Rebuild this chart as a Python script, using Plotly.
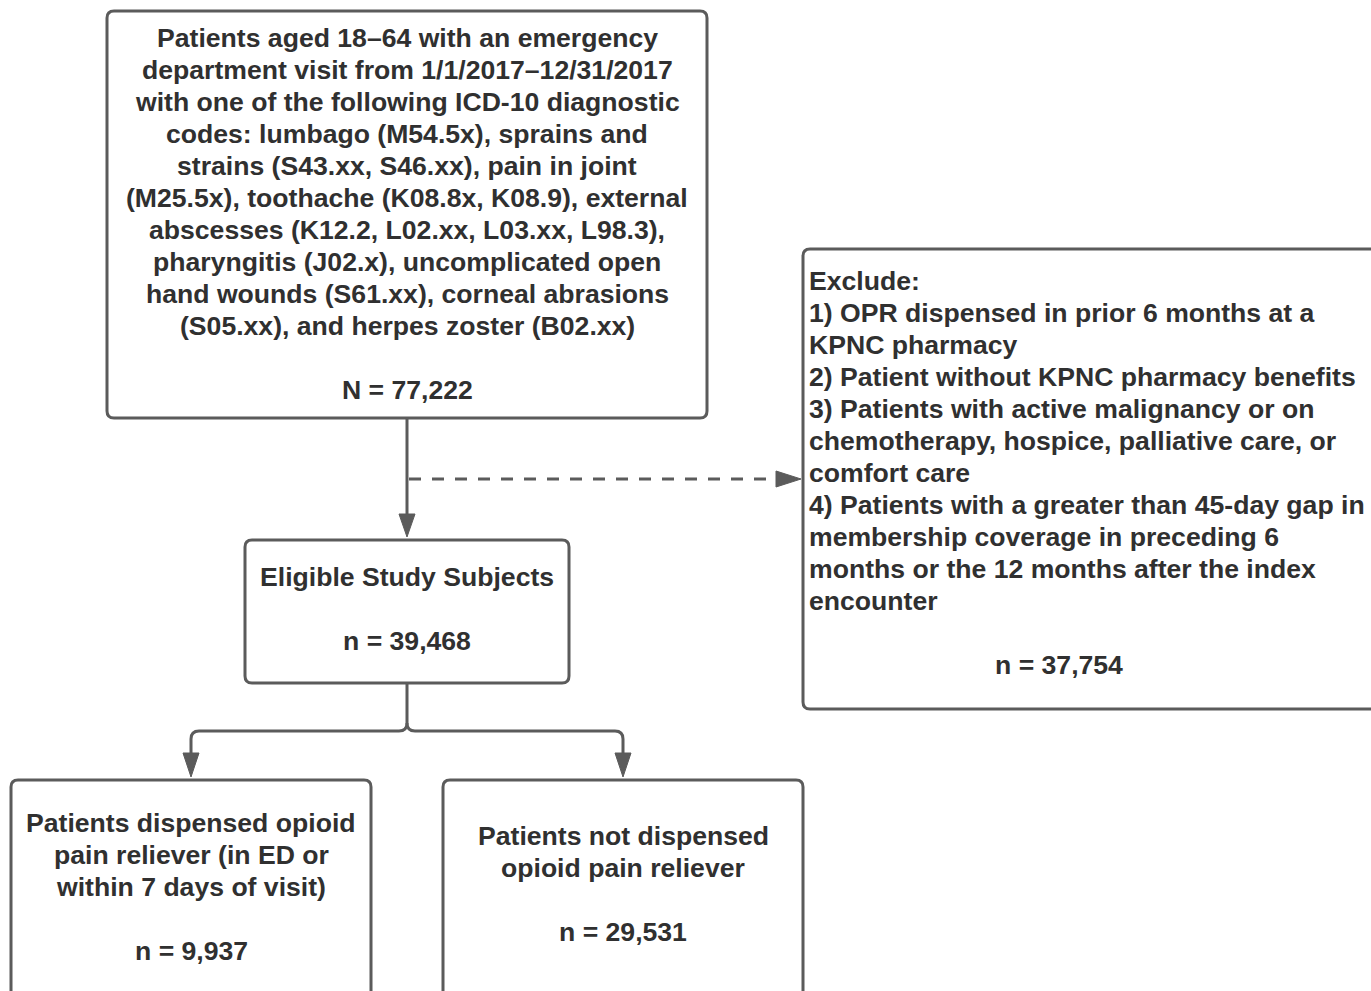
import plotly.graph_objects as go

# ---- content ----
top_lines = [
    "Patients aged 18–64 with an emergency",
    "department visit from 1/1/2017–12/31/2017",
    "with one of the following ICD-10 diagnostic",
    "codes: lumbago (M54.5x), sprains and",
    "strains (S43.xx, S46.xx), pain in joint",
    "(M25.5x), toothache (K08.8x, K08.9), external",
    "abscesses (K12.2, L02.xx, L03.xx, L98.3),",
    "pharyngitis (J02.x), uncomplicated open",
    "hand wounds (S61.xx), corneal abrasions",
    "(S05.xx), and herpes zoster (B02.xx)",
]
top_count = ["N = 77,222"]
elig_lines = ["Eligible Study Subjects"]
elig_count = ["n = 39,468"]
excl_lines = [
    "Exclude:",
    "1) OPR dispensed in prior 6 months at a",
    "KPNC pharmacy",
    "2) Patient without KPNC pharmacy benefits",
    "3) Patients with active malignancy or on",
    "chemotherapy, hospice, palliative care, or",
    "comfort care",
    "4) Patients with a greater than 45-day gap in",
    "membership coverage in preceding 6",
    "months or the 12 months after the index",
    "encounter",
]
excl_count = ["n = 37,754"]
left_lines = ["Patients dispensed opioid", "pain reliever (in ED or", "within 7 days of visit)"]
left_count = ["n = 9,937"]
right_lines = ["Patients not dispensed", "opioid pain reliever"]
right_count = ["n = 29,531"]

W, H = 1371, 991
LINE = "#5b5b5b"
TXT = "#303030"
FS = 26.6
LH = 32
FONT = dict(family="Liberation Sans, Arial, sans-serif", size=FS, color=TXT, weight="bold")

fig = go.Figure()
shapes = []
annotations = []


def rrect(x0, y0, x1, y1, r=7):
    p = (f"M{x0+r},{y0} L{x1-r},{y0} Q{x1},{y0} {x1},{y0+r} "
         f"L{x1},{y1-r} Q{x1},{y1} {x1-r},{y1} L{x0+r},{y1} "
         f"Q{x0},{y1} {x0},{y1-r} L{x0},{y0+r} Q{x0},{y0} {x0+r},{y0} Z")
    shapes.append(dict(type="path", path=p, line=dict(color=LINE, width=3),
                       fillcolor="white", layer="below"))


def lines_at(lines, x, y0, anchor="center"):
    for i, t in enumerate(lines):
        annotations.append(dict(x=x, y=y0 + i * LH, text=t, showarrow=False,
                                xanchor=anchor, yanchor="middle", font=FONT))


def tri(path):
    shapes.append(dict(type="path", path=path, fillcolor=LINE,
                       line=dict(color=LINE, width=1)))


def seg(path, dash="solid"):
    shapes.append(dict(type="path", path=path, line=dict(color=LINE, width=3, dash=dash)))


# boxes
rrect(107, 11, 707, 418)
rrect(245, 540, 569, 683)
rrect(803, 249, 1385, 709)
rrect(11, 780, 371, 1010)
rrect(443, 780, 803, 1010)

# connectors
seg("M407,418 L407,516")
tri("M399,514 L415,514 L407,537 Z")
seg("M409,479 L778,479", dash="12px,11px")
tri("M776,471 L776,487 L801,479 Z")
seg("M407,683 L407,723 Q407,731 399,731 L199,731 Q191,731 191,739 L191,756")
seg("M407,723 Q407,731 415,731 L615,731 Q623,731 623,739 L623,756")
tri("M183,753 L199,753 L191,777 Z")
tri("M615,753 L631,753 L623,777 Z")

# texts
lines_at(top_lines, 407, 38)
lines_at(top_count, 407, 390)
lines_at(elig_lines, 407, 577)
lines_at(elig_count, 407, 641)
lines_at(excl_lines, 807, 281, anchor="left")
lines_at(excl_count, 1059, 665)
lines_at(left_lines, 191, 823)
lines_at(left_count, 191, 951)
lines_at(right_lines, 623, 836)
lines_at(right_count, 623, 932)

fig.update_layout(
    width=W, height=H,
    margin=dict(l=0, r=0, t=0, b=0),
    paper_bgcolor="white", plot_bgcolor="white",
    xaxis=dict(range=[0, W], visible=False, fixedrange=True),
    yaxis=dict(range=[H, 0], visible=False, fixedrange=True),
    shapes=shapes, annotations=annotations, showlegend=False,
)
fig.write_html("out.html", config={"displayModeBar": False},
               post_script="document.body.style.margin='0';document.body.style.overflow='hidden';")
